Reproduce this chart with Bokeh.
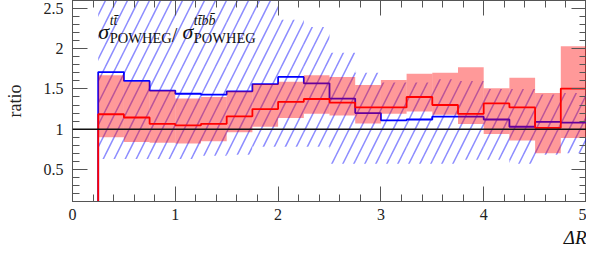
import numpy as np
from bokeh.plotting import figure
from bokeh.models import LinearAxis, Label, Span, Range1d, FixedTicker, Title
from bokeh.embed import file_html
from bokeh.resources import INLINE

# bin edges in Delta R
edges = [0.25, 0.5, 0.75, 1.0, 1.25, 1.5, 1.75, 2.0, 2.25, 2.5, 2.75,
         3.0, 3.25, 3.5, 3.75, 4.0, 4.25, 4.5, 4.75, 5.0]

# blue: sigma_tt / sigma_ttbb central ratio
blue = [1.71, 1.60, 1.48, 1.44, 1.43, 1.47, 1.56, 1.65, 1.57, 1.38,
        1.20, 1.11, 1.12, 1.155, 1.155, 1.12, 1.03, 1.09, 1.08]
# blue hatched uncertainty band
hatch_lo = [0.63, 0.63, 0.63, 0.63, 0.67, 0.68, 0.78, 0.78, 0.78, 0.57,
            0.57, 0.57, 0.57, 0.57, 0.62, 0.62, 0.57, 0.68, 0.70]
hatch_hi = [2.8, 2.8, 2.8, 2.8, 2.8, 2.8, 2.8, 2.36, 2.27, 1.95,
            1.70, 1.58, 1.58, 1.62, 1.60, 1.50, 1.50, 1.43, 1.45]

# red central ratio and band
red = [1.185, 1.145, 1.065, 1.047, 1.066, 1.16, 1.25, 1.34, 1.375, 1.33,
       1.27, 1.27, 1.40, 1.30, 1.19, 1.32, 1.27, 1.016, 1.505]
red_lo = [0.90, 0.84, 0.83, 0.82, 0.85, 0.96, 1.03, 1.14, 1.19, 1.17,
          1.07, 1.19, 1.22, 1.18, 1.065, 0.94, 0.86, 0.70, 0.89]
red_hi = [1.67, 1.59, 1.48, 1.38, 1.40, 1.47, 1.56, 1.59, 1.67, 1.65,
          1.55, 1.61, 1.69, 1.70, 1.77, 1.51, 1.64, 1.45, 2.03]

x_ticks = [0, 1, 2, 3, 4, 5]
y_ticks = [0.5, 1, 1.5, 2, 2.5]

SERIF = "Liberation Serif"
AXC = "#555555"

p = figure(width=586, height=249, x_range=Range1d(0, 5), y_range=Range1d(0.1, 2.6),
           output_backend="svg", toolbar_location=None,
           min_border_left=72, min_border_right=0, min_border_top=0, min_border_bottom=44,
           x_axis_location=None, y_axis_location=None)
p.grid.visible = False
p.outline_line_color = AXC
p.background_fill_color = "white"

xt = FixedTicker(ticks=x_ticks, minor_ticks=list(np.round(np.arange(0, 5.01, 0.2), 3)))
yt = FixedTicker(ticks=y_ticks, minor_ticks=list(np.round(np.arange(0.1, 2.61, 0.1), 3)))

def style(ax, labels=True):
    ax.axis_line_color = AXC
    ax.major_tick_line_color = AXC
    ax.minor_tick_line_color = AXC
    ax.major_tick_in = 15
    ax.major_tick_out = 0
    ax.minor_tick_in = 7
    ax.minor_tick_out = 0
    if labels:
        ax.major_label_text_font = SERIF
        ax.major_label_text_font_size = "16px"
        ax.major_label_text_color = "#222222"
    else:
        ax.major_label_text_color = None
        ax.major_label_text_font_size = "1px"
        ax.major_label_standoff = 0

xb = LinearAxis(ticker=xt)
style(xb)
xb.major_label_standoff = 7
p.add_layout(xb, "below")

yl = LinearAxis(ticker=yt, axis_label="ratio")
style(yl)
yl.major_label_standoff = 9
yl.axis_label_text_font = SERIF
yl.axis_label_text_font_style = "normal"
yl.axis_label_text_font_size = "18px"
yl.axis_label_text_color = "#222222"
yl.axis_label_standoff = 16
p.add_layout(yl, "left")

xa = LinearAxis(ticker=xt)
style(xa, labels=False)
p.add_layout(xa, "above")

yr = LinearAxis(ticker=yt)
style(yr, labels=False)
p.add_layout(yr, "right")

p.add_layout(Title(text="ΔR", align="right", text_font=SERIF, text_font_size="19px",
                   text_font_style="italic", text_color="#111111", standoff=4, offset=0), "below")

left = edges[:-1]
right = edges[1:]

# blue hatched band
p.quad(left=left, right=right, bottom=hatch_lo, top=hatch_hi,
       fill_color=None, line_color=None, hatch_pattern="/", hatch_color="blue",
       hatch_alpha=0.45, hatch_scale=22, hatch_weight=1.5)

# blue step line
p.step([edges[0]] + edges, [0] + blue + [blue[-1]], mode="after",
       line_color="blue", line_width=1.8)

# red band
p.quad(left=left, right=right, bottom=red_lo, top=red_hi,
       fill_color="red", fill_alpha=0.4, line_color=None)

# red step line
p.step([edges[0]] + edges, [0] + red + [red[-1]], mode="after",
       line_color="red", line_width=1.8)

p.add_layout(Span(location=1, dimension="width", line_color="#111111", line_width=1.5))

def lab(x, yoff, text, size, style="normal"):
    p.add_layout(Label(x=x, y=2.6, y_offset=yoff, text=text, text_font=SERIF,
                       text_font_size=size, text_font_style=style, text_color="#111111",
                       text_baseline="alphabetic", text_align="left"))

lab(0.250, -31, "σ", "22px", "italic")
lab(0.362, -20, "tt\u0304", "14px", "italic")
lab(0.362, -37, "POWHEG", "14.5px")
lab(0.965, -34, "/", "20px")
lab(1.070, -31, "σ", "22px", "italic")
lab(1.180, -20, "tt\u0304bb\u0304", "14px", "italic")
lab(1.180, -37, "POWHEG", "14.5px")

open("out.html", "w").write(file_html(p, INLINE))
